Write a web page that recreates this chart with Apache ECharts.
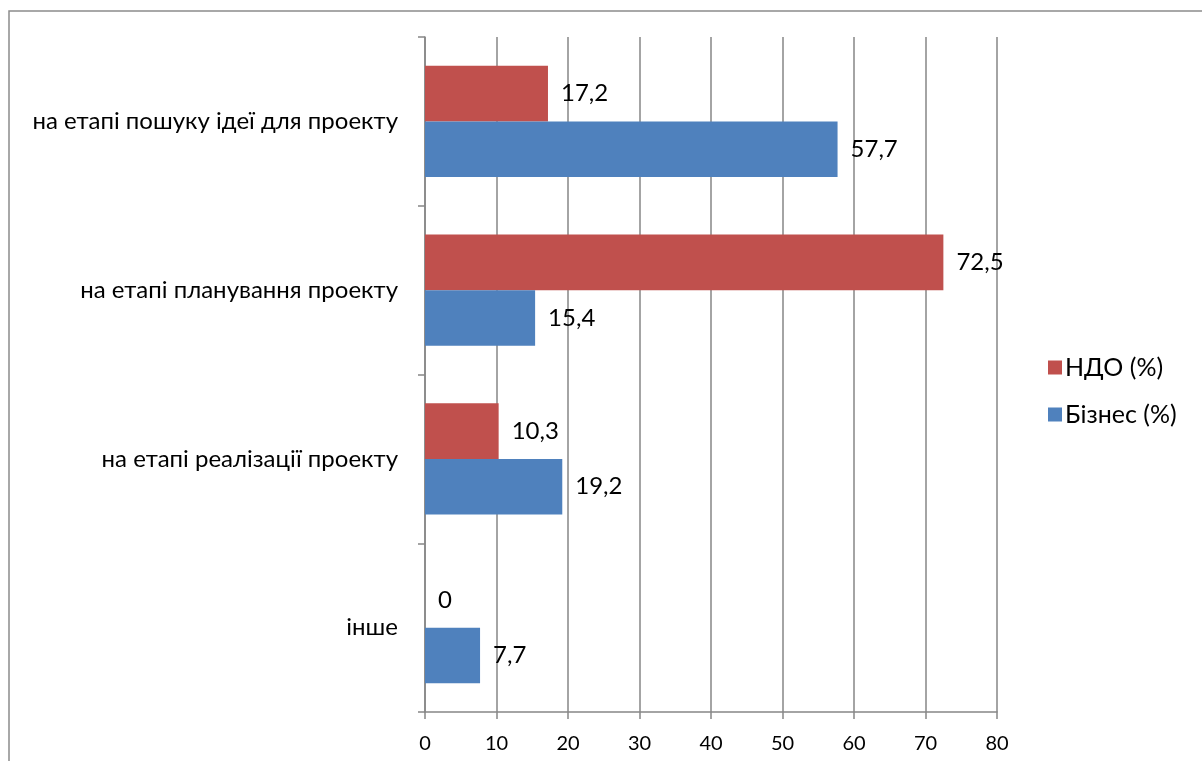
<!DOCTYPE html>
<html>
<head>
<meta charset="utf-8">
<script src="https://cdn.jsdelivr.net/npm/echarts@6/dist/echarts.min.js"></script>
<style>
html,body{margin:0;padding:0;background:#fff;}
#chart{width:1202px;height:761px;}
</style>
</head>
<body>
<div id="chart"></div>
<script>
const categories = [
  "на етапі пошуку ідеї для проекту",
  "на етапі планування проекту",
  "на етапі реалізації проекту",
  "інше"
];
const seriesNames = ["НДО (%)", "Бізнес (%)"];
const ndoValues = [17.2, 72.5, 10.3, 0];
const biznesValues = [57.7, 15.4, 19.2, 7.7];
const xTicks = [0, 10, 20, 30, 40, 50, 60, 70, 80];

const FONT = "Lato, 'Open Sans', 'Noto Sans', sans-serif";
const chart = echarts.init(document.getElementById('chart'), null, {renderer: 'canvas'});

function fmt(v) { return String(v).replace('.', ','); }

const labelCfg = {
  show: true,
  position: 'right',
  distance: 13,
  color: '#000',
  fontSize: 24,
  fontFamily: FONT,
  formatter: p => fmt(p.value)
};

chart.setOption({
  animation: false,
  backgroundColor: '#fff',
  graphic: [{
    type: 'rect',
    shape: {x: 9, y: 11, width: 1250, height: 800},
    style: {fill: 'none', stroke: '#8c8c8c', lineWidth: 1.5},
    silent: true
  }],
  grid: {left: 425, right: 205, top: 37, bottom: 49, containLabel: false},
  legend: {
    data: seriesNames,
    orient: 'vertical',
    left: 1043,
    top: 350,
    itemWidth: 14,
    itemHeight: 14,
    itemGap: 22,
    icon: 'rect',
    textStyle: {fontSize: 25, fontFamily: FONT, color: '#000', padding: [0,0,0,-2]}
  },
  xAxis: {
    type: 'value',
    min: xTicks[0],
    max: xTicks[xTicks.length - 1],
    interval: 10,
    axisLine: {show: true, lineStyle: {color: '#868686', width: 1.5}},
    axisTick: {show: true, length: 7, lineStyle: {color: '#868686', width: 1.5}},
    splitLine: {show: true, lineStyle: {color: '#868686', width: 1.5}},
    axisLabel: {color: '#000', fontSize: 20, fontFamily: FONT, margin: 22}
  },
  yAxis: {
    type: 'category',
    data: categories,
    inverse: true,
    axisLine: {show: true, lineStyle: {color: '#868686', width: 1.5}},
    axisTick: {show: true, length: 7, lineStyle: {color: '#868686', width: 1.5}},
    axisLabel: {color: '#000', fontSize: 24, fontFamily: FONT, margin: 27}
  },
  series: [
    {
      name: seriesNames[0],
      type: 'bar',
      data: ndoValues,
      itemStyle: {color: '#C0504D'},
      barGap: '0%',
      barCategoryGap: '34%',
      label: labelCfg,
      z: 3
    },
    {
      name: seriesNames[1],
      type: 'bar',
      data: biznesValues,
      itemStyle: {color: '#4F81BD'},
      barGap: '0%',
      barCategoryGap: '34%',
      label: labelCfg,
      z: 3
    }
  ]
});
</script>
</body>
</html>
